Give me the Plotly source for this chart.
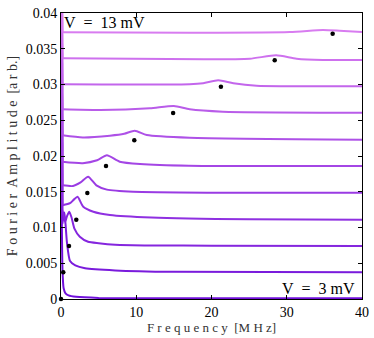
import plotly.graph_objects as go

# Frequency samples and Fourier amplitudes, V = 3 .. 13 mV
voltages = [3, 4, 5, 6, 7, 8, 9, 10, 11, 12, 13]

freq_3 = [0, 0.1, 0.2, 0.35, 0.6, 1.0, 2.0, 5, 40]
amp_3 = [0.06, 0.012, 0.004, 0.0015, 0.0008, 0.0005, 0.0003, 0.00015, 0.0001]

freq_4 = [0, 0.15, 0.3, 0.45, 0.6, 0.8, 1.2, 1.9, 3.2, 7.2, 15, 40]
amp_4 = [0.06, 0.0105, 0.0112, 0.0121, 0.0105, 0.0078, 0.0053, 0.0047, 0.0043, 0.0040, 0.0038, 0.00373]

freq_5 = [0, 0.2, 0.55, 0.8, 1.1, 1.4, 1.8, 2.5, 3.6, 5, 7.2, 12, 20, 40]
amp_5 = [0.06, 0.0125, 0.0108, 0.0116, 0.0122, 0.0114, 0.0098, 0.0087, 0.0080, 0.0078, 0.0076, 0.0075, 0.00745, 0.00742]

freq_6 = [0, 0.2, 1.2, 1.7, 2.2, 2.96, 4.3, 6.5, 12, 25, 40]
amp_6 = [0.06, 0.0131, 0.0134, 0.0139, 0.0143, 0.0129, 0.0122, 0.01175, 0.0114, 0.01115, 0.0111]

freq_7 = [0, 0.2, 1.6, 2.6, 3.6, 4.7, 6.1, 9.6, 20, 40]
amp_7 = [0.06, 0.0159, 0.0158, 0.0163, 0.0171, 0.0159, 0.0153, 0.0150, 0.01487, 0.01485]

freq_8 = [0, 0.2, 2.9, 4.8, 6.1, 7.8, 10.5, 17, 40]
amp_8 = [0.06, 0.0192, 0.0190, 0.0194, 0.0201, 0.0192, 0.01888, 0.01864, 0.0186]

freq_9 = [0, 0.2, 2.9, 6.5, 8.4, 9.8, 11.4, 17.1, 40]
amp_9 = [0.06, 0.0229, 0.0226, 0.02284, 0.0231, 0.02354, 0.02294, 0.02256, 0.02228]

freq_10 = [0, 0.2, 5.2, 11.8, 15, 17.1, 21.5, 40]
amp_10 = [0.06, 0.02653, 0.02643, 0.02667, 0.02699, 0.02653, 0.0262, 0.02606]

freq_11 = [0, 0.2, 17.1, 18.9, 20.9, 22.9, 26, 40]
amp_11 = [0.06, 0.03003, 0.03003, 0.03017, 0.03059, 0.03017, 0.02983, 0.02975]

freq_12 = [0, 0.2, 19, 25.1, 28.6, 31.3, 34.8, 40]
amp_12 = [0.06, 0.03366, 0.03352, 0.03361, 0.03408, 0.03361, 0.03343, 0.03343]

freq_13 = [0, 0.2, 17, 30.4, 34.8, 37, 40]
amp_13 = [0.06, 0.0373, 0.03724, 0.03734, 0.03762, 0.03752, 0.03734]

# Peak positions (black dots)
peak_freq = [0, 0.3, 1.06, 2.03, 3.5, 5.98, 9.74, 14.9, 21.25, 28.4, 36.1]
peak_amp = [0, 0.00373, 0.0074, 0.0111, 0.01483, 0.0186, 0.0222, 0.026, 0.0297, 0.0334, 0.0371]

curves = [
    (freq_3, amp_3), (freq_4, amp_4), (freq_5, amp_5), (freq_6, amp_6),
    (freq_7, amp_7), (freq_8, amp_8), (freq_9, amp_9), (freq_10, amp_10),
    (freq_11, amp_11), (freq_12, amp_12), (freq_13, amp_13),
]

c_lo = (112, 16, 218)
c_hi = (216, 124, 240)

fig = go.Figure()
n = len(curves)
for i, (fx, fy) in enumerate(curves):
    t = i / (n - 1)
    color = "rgb(%d,%d,%d)" % tuple(round(a + (b - a) * t) for a, b in zip(c_lo, c_hi))
    # DC spike at f = 0 drawn straight, rest of the spectrum smoothed
    fig.add_trace(go.Scatter(
        x=fx[:2], y=fy[:2], mode="lines",
        line=dict(color=color, width=2), showlegend=False, hoverinfo="skip",
    ))
    fig.add_trace(go.Scatter(
        x=fx[1:], y=fy[1:], mode="lines",
        line=dict(color=color, width=2, shape="spline", smoothing=0.6),
        name="V = %d mV" % voltages[i], showlegend=False,
    ))

fig.add_trace(go.Scatter(
    x=peak_freq, y=peak_amp, mode="markers",
    marker=dict(color="black", size=4.5), showlegend=False, cliponaxis=False,
))

serif = "Liberation Serif, DejaVu Serif, serif"
axis_common = dict(
    showline=True, linecolor="black", linewidth=1, mirror="ticks",
    ticks="inside", ticklen=4, tickcolor="black", showgrid=False, zeroline=False,
    automargin=False,
    tickfont=dict(family=serif, size=14, color="black"),
)

fig.update_xaxes(
    range=[0, 40], tickvals=[0, 10, 20, 30, 40],
    title=dict(text="F r e q u e n c y  [M H z]", font=dict(family=serif, size=13, color="#333"), standoff=3),
    **axis_common,
)
fig.update_yaxes(
    range=[0, 0.04], tickvals=[0, 0.005, 0.01, 0.015, 0.02, 0.025, 0.03, 0.035, 0.04],
    ticktext=["0", "0.005", "0.01", "0.015", "0.02", "0.025", "0.03", "0.035", "0.04"],
    title=dict(text="F o u r i e r  A m p l i t u d e  [a r b.]", font=dict(family=serif, size=14, color="#333"), standoff=4),
    **axis_common,
)

nb = "\u00a0"
fig.add_annotation(x=0, y=1, xref="paper", yref="paper", xanchor="left", yanchor="top",
                   text="V" + nb * 2 + "=" + nb * 2 + "13" + nb + "mV", showarrow=False, xshift=1, yshift=1,
                   font=dict(family=serif, size=16, color="black"))
fig.add_annotation(x=1, y=0, xref="paper", yref="paper", xanchor="right", yanchor="bottom",
                   text="V" + nb * 2 + "=" + nb * 2 + "3" + nb + "mV", showarrow=False, xshift=-5, yshift=0,
                   font=dict(family=serif, size=16, color="black"))

fig.update_layout(
    width=374, height=338,
    margin=dict(l=61, r=12, t=13, b=39),
    plot_bgcolor="white", paper_bgcolor="white",
    font=dict(family=serif),
)

fig.write_html("out.html", config={"displayModeBar": False},
               post_script="document.body.style.margin='0';")
